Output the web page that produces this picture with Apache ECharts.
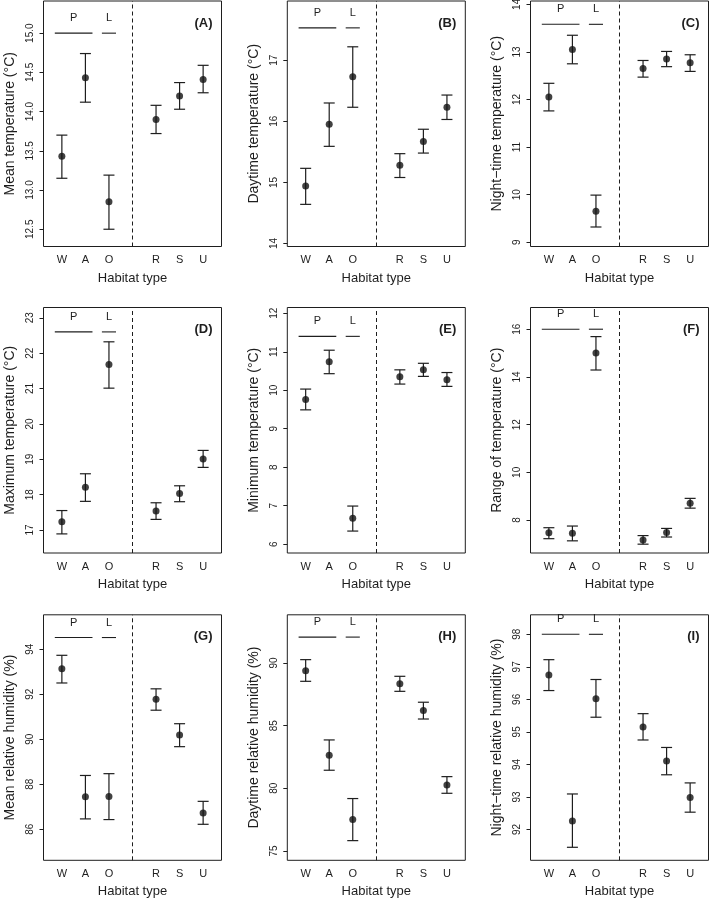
<!DOCTYPE html>
<html><head><meta charset="utf-8">
<script src="https://cdn.jsdelivr.net/npm/echarts@6/dist/echarts.min.js"></script>
<style>html,body{margin:0;padding:0;background:#fff}#c{width:709px;height:901px}</style>
</head><body><div id="c"></div>
<script>
// ---------- data ----------
const categories = ['W', 'A', 'O', 'R', 'S', 'U'];
const categoryX = [1, 2, 3, 5, 6, 7];
const groupLabels = ['P', 'L'];
const panelLabels = ['(A)', '(B)', '(C)', '(D)', '(E)', '(F)', '(G)', '(H)', '(I)'];
const yNames = ['Mean temperature (°C)', 'Daytime temperature (°C)', 'Night\u2212time temperature (°C)',
  'Maximum temperature (°C)', 'Minimum temperature (°C)', 'Range of temperature (°C)',
  'Mean relative humidity (%)', 'Daytime relative humidity (%)', 'Night\u2212time relative humidity (%)'];
const xName = 'Habitat type';

const meanTempMean = [13.43, 14.43, 12.85, 13.90, 14.20, 14.41];
const meanTempLo   = [13.15, 14.12, 12.50, 13.72, 14.03, 14.24];
const meanTempHi   = [13.70, 14.74, 13.19, 14.08, 14.37, 14.59];

const dayTempMean = [14.94, 15.95, 16.73, 15.28, 15.67, 16.23];
const dayTempLo   = [14.64, 15.59, 16.23, 15.08, 15.48, 16.03];
const dayTempHi   = [15.23, 16.30, 17.22, 15.47, 15.87, 16.43];

const nightTempMean = [12.05, 13.05, 9.65, 12.65, 12.85, 12.77];
const nightTempLo   = [11.76, 12.75, 9.32, 12.47, 12.69, 12.59];
const nightTempHi   = [12.34, 13.35, 9.99, 12.82, 13.01, 12.94];

const maxTempMean = [17.23, 18.21, 21.68, 17.54, 18.03, 19.01];
const maxTempLo   = [16.89, 17.81, 21.01, 17.30, 17.80, 18.77];
const maxTempHi   = [17.55, 18.59, 22.32, 17.77, 18.25, 19.25];

const minTempMean = [9.76, 10.74, 6.67, 10.35, 10.53, 10.27];
const minTempLo   = [9.49, 10.43, 6.34, 10.16, 10.36, 10.10];
const minTempHi   = [10.03, 11.04, 6.99, 10.53, 10.70, 10.46];

const rangeTempMean = [7.47, 7.45, 15.00, 7.17, 7.48, 8.71];
const rangeTempLo   = [7.22, 7.13, 14.29, 6.99, 7.29, 8.50];
const rangeTempHi   = [7.68, 7.75, 15.69, 7.35, 7.65, 8.91];

const meanRhMean = [93.13, 87.44, 87.45, 91.78, 90.19, 86.72];
const meanRhLo   = [92.50, 86.46, 86.43, 91.29, 89.67, 86.22];
const meanRhHi   = [93.73, 88.39, 88.47, 92.24, 90.69, 87.24];

const dayRhMean = [89.39, 82.63, 77.50, 88.35, 86.20, 80.26];
const dayRhLo   = [88.54, 81.44, 75.82, 87.74, 85.53, 79.60];
const dayRhHi   = [90.27, 83.86, 79.18, 88.94, 86.87, 80.93];

const nightRhMean = [96.75, 92.26, 96.02, 95.15, 94.10, 92.98];
const nightRhLo   = [96.27, 91.45, 95.45, 94.75, 93.68, 92.53];
const nightRhHi   = [97.22, 93.09, 96.61, 95.56, 94.52, 93.43];

// height of the P / L group bars in each panel
const groupLineY = [15.0, 17.53, 13.58, 22.6, 11.40, 16.0, 94.52, 92.07, 98.0];

// y tick labels
const ticksA = [12.5, 13.0, 13.5, 14.0, 14.5, 15.0];
const ticksB = [14, 15, 16, 17];
const ticksC = [9, 10, 11, 12, 13, 14];
const ticksD = [17, 18, 19, 20, 21, 22, 23];
const ticksE = [6, 7, 8, 9, 10, 11, 12];
const ticksF = [8, 10, 12, 14, 16];
const ticksG = [86, 88, 90, 92, 94];
const ticksH = [75, 80, 85, 90];
const ticksI = [92, 93, 94, 95, 96, 97, 98];

// ---------- layout ----------
const yRanges = [[12.28, 15.41], [13.95, 17.97], [8.91, 14.07],
                 [16.35, 23.29], [5.77, 12.15], [6.62, 16.91],
                 [84.62, 95.53], [74.25, 93.85], [91.05, 98.60]];
const tickDecimals = [1, 0, 0, 0, 0, 0, 0, 0, 0];
const colLeft = [43.5, 287.3, 530.5];
const colWidth = 178;
const rowTop = [1, 307.5, 614.8];
const rowHeight = 245.5;
const xMin = 0.22, xMax = 7.78;
const dividerX = 4;
const groupSpans = [[0.7, 2.3], [2.7, 3.3]];
const INK = '#1e1e1e';
const FONT = 'Liberation Sans, Arial, Helvetica, sans-serif';

const panelMeans = [meanTempMean, dayTempMean, nightTempMean, maxTempMean, minTempMean, rangeTempMean, meanRhMean, dayRhMean, nightRhMean];
const panelLo = [meanTempLo, dayTempLo, nightTempLo, maxTempLo, minTempLo, rangeTempLo, meanRhLo, dayRhLo, nightRhLo];
const panelHi = [meanTempHi, dayTempHi, nightTempHi, maxTempHi, minTempHi, rangeTempHi, meanRhHi, dayRhHi, nightRhHi];
const panelTicks = [ticksA, ticksB, ticksC, ticksD, ticksE, ticksF, ticksG, ticksH, ticksI];

const grids = [], xAxes = [], yAxes = [], series = [], graphics = [];

for (let i = 0; i < 9; i++) {
  const r = Math.floor(i / 3), c = i % 3;
  grids.push({
    left: colLeft[c], top: rowTop[r], width: colWidth, height: rowHeight,
    show: true, borderColor: INK, borderWidth: 1, backgroundColor: 'transparent',
    containLabel: false, outerBoundsMode: 'none'
  });
  xAxes.push({
    type: 'value', gridIndex: i, min: xMin, max: xMax,
    axisLine: { show: false }, axisTick: { show: false }, splitLine: { show: false },
    axisLabel: {
      customValues: categoryX, margin: 8, fontSize: 11, color: INK, fontFamily: FONT,
      formatter: v => categories[categoryX.indexOf(Math.round(v))] || ''
    },
    name: xName, nameLocation: 'middle', nameGap: 25,
    nameTextStyle: { fontSize: 13, color: INK, fontFamily: FONT }
  });
  const dec = tickDecimals[i];
  yAxes.push({
    type: 'value', gridIndex: i, min: yRanges[i][0], max: yRanges[i][1],
    axisLine: { show: false }, splitLine: { show: false },
    axisTick: { show: true, customValues: panelTicks[i], length: 4, lineStyle: { color: INK, width: 1 } },
    axisLabel: {
      customValues: panelTicks[i], rotate: 90, margin: 8, fontSize: 10, color: INK, fontFamily: FONT,
      formatter: v => Number(v).toFixed(dec)
    },
    name: yNames[i], nameLocation: 'middle', nameGap: 26,
    nameTextStyle: { fontSize: 14, color: INK, fontFamily: FONT }
  });

  // error bars
  series.push({
    type: 'custom', xAxisIndex: i, yAxisIndex: i, silent: true,
    data: categoryX.map((x, k) => [x, panelLo[i][k], panelHi[i][k]]),
    encode: { x: 0, y: [1, 2] },
    renderItem: (params, api) => {
      const x = api.value(0), lo = api.value(1), hi = api.value(2);
      const pLo = api.coord([x, lo]), pHi = api.coord([x, hi]);
      const w = 5.5;
      const style = { stroke: INK, lineWidth: 1.2 };
      return { type: 'group', children: [
        { type: 'line', shape: { x1: pLo[0], y1: pLo[1], x2: pHi[0], y2: pHi[1] }, style },
        { type: 'line', shape: { x1: pLo[0] - w, y1: pLo[1], x2: pLo[0] + w, y2: pLo[1] }, style },
        { type: 'line', shape: { x1: pHi[0] - w, y1: pHi[1], x2: pHi[0] + w, y2: pHi[1] }, style }
      ]};
    },
    z: 3
  });

  // means + divider line
  series.push({
    type: 'scatter', xAxisIndex: i, yAxisIndex: i, silent: true,
    data: categoryX.map((x, k) => [x, panelMeans[i][k]]),
    symbol: 'circle', symbolSize: 7, itemStyle: { color: '#111' }, z: 4,
    markLine: {
      silent: true, symbol: ['none', 'none'], label: { show: false },
      lineStyle: { type: [4, 3], color: INK, width: 1 },
      data: [{ xAxis: dividerX }], animation: false
    }
  });

  // P / L group bars
  series.push({
    type: 'custom', xAxisIndex: i, yAxisIndex: i, silent: true,
    data: groupSpans.map((s, g) => [s[0], s[1], groupLineY[i], g]),
    encode: { x: [0, 1], y: 2 },
    renderItem: (params, api) => {
      const a = api.coord([api.value(0), api.value(2)]);
      const b = api.coord([api.value(1), api.value(2)]);
      return { type: 'group', children: [
        { type: 'line', shape: { x1: a[0], y1: a[1], x2: b[0], y2: b[1] }, style: { stroke: INK, lineWidth: 1.1 } },
        { type: 'text', x: (a[0] + b[0]) / 2, y: a[1] - 15,
          style: { text: groupLabels[api.value(3)], fill: INK, font: '11px ' + FONT, textAlign: 'center', textVerticalAlign: 'middle' } }
      ]};
    },
    z: 3
  });

  graphics.push({
    type: 'text', x: colLeft[c] + colWidth - 9, y: rowTop[r] + 22,
    style: { text: panelLabels[i], fill: INK, font: 'bold 13px ' + FONT, textAlign: 'right', textVerticalAlign: 'middle' }
  });
}

const chart = echarts.init(document.getElementById('c'), null, { renderer: 'canvas' });
chart.setOption({
  animation: false,
  backgroundColor: '#fff',
  textStyle: { fontFamily: FONT },
  grid: grids, xAxis: xAxes, yAxis: yAxes, series: series, graphic: graphics
});
</script>
</body></html>
